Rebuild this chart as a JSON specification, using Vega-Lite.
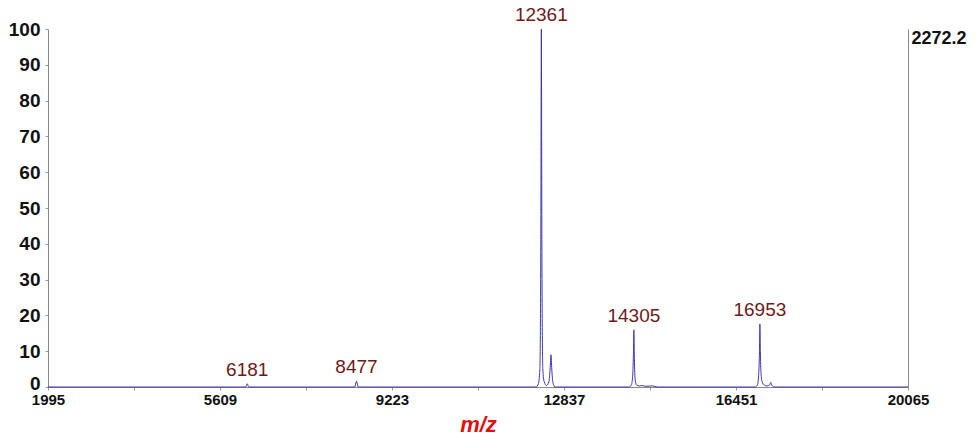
{
  "$schema": "https://vega.github.io/schema/vega-lite/v6.json",
  "width": 860,
  "height": 358,
  "autosize": "none",
  "padding": {"left": 48, "top": 29, "right": 71, "bottom": 50},
  "background": "white",
  "config": {"view": {"stroke": null}},
  "datasets": {
    "spectrum": [
      {"mz": 1995, "intensity": 0},
      {"mz": 6150, "intensity": 0},
      {"mz": 6181, "intensity": 0.9},
      {"mz": 6212, "intensity": 0},
      {"mz": 8440, "intensity": 0},
      {"mz": 8477, "intensity": 1.6},
      {"mz": 8514, "intensity": 0},
      {"mz": 12250, "intensity": 0},
      {"mz": 12300, "intensity": 1},
      {"mz": 12330, "intensity": 5},
      {"mz": 12350, "intensity": 40},
      {"mz": 12361, "intensity": 100},
      {"mz": 12372, "intensity": 40},
      {"mz": 12392, "intensity": 5},
      {"mz": 12420, "intensity": 1.5},
      {"mz": 12470, "intensity": 0.4},
      {"mz": 12520, "intensity": 1.5},
      {"mz": 12545, "intensity": 5},
      {"mz": 12564, "intensity": 9},
      {"mz": 12580, "intensity": 5},
      {"mz": 12605, "intensity": 1.2},
      {"mz": 12650, "intensity": 0},
      {"mz": 14200, "intensity": 0},
      {"mz": 14250, "intensity": 0.5},
      {"mz": 14280, "intensity": 3},
      {"mz": 14295, "intensity": 9},
      {"mz": 14305, "intensity": 16},
      {"mz": 14316, "intensity": 8},
      {"mz": 14332, "intensity": 2},
      {"mz": 14365, "intensity": 0.5},
      {"mz": 14420, "intensity": 0.3},
      {"mz": 14470, "intensity": 0.4},
      {"mz": 14560, "intensity": 0.2},
      {"mz": 14700, "intensity": 0.3},
      {"mz": 14800, "intensity": 0},
      {"mz": 16850, "intensity": 0},
      {"mz": 16900, "intensity": 0.5},
      {"mz": 16930, "intensity": 4},
      {"mz": 16944, "intensity": 10},
      {"mz": 16953, "intensity": 17.6},
      {"mz": 16963, "intensity": 10},
      {"mz": 16976, "intensity": 4},
      {"mz": 17000, "intensity": 1.5},
      {"mz": 17040, "intensity": 0.6},
      {"mz": 17100, "intensity": 0.3},
      {"mz": 17160, "intensity": 0.6},
      {"mz": 17181, "intensity": 1.3},
      {"mz": 17202, "intensity": 0.5},
      {"mz": 17260, "intensity": 0},
      {"mz": 20065, "intensity": 0}
    ],
    "labels": [
      {"mz": 6181, "intensity": 0.9, "label": "6181"},
      {"mz": 8477, "intensity": 1.6, "label": "8477"},
      {"mz": 12361, "intensity": 100, "label": "12361"},
      {"mz": 14305, "intensity": 16, "label": "14305"},
      {"mz": 16953, "intensity": 17.6, "label": "16953"}
    ]
  },
  "layer": [
    {
      "data": {"name": "spectrum"},
      "mark": {"type": "line", "color": "#3a36b0", "strokeWidth": 1, "interpolate": "monotone"},
      "encoding": {
        "x": {
          "field": "mz", "type": "quantitative",
          "scale": {"domain": [1995, 20065], "nice": false, "zero": false},
          "axis": {
            "values": [1995, 3802, 5609, 7416, 9223, 11030, 12837, 14644, 16451, 18258, 20065],
            "labelExpr": "indexof([1995,5609,9223,12837,16451,20065], datum.value) >= 0 ? datum.value + '' : ''",
            "grid": false,
            "domainColor": "#888888",
            "tickColor": "#999999",
            "tickSize": 3,
            "labelFont": "Liberation Sans",
            "labelFontWeight": "bold",
            "labelFontSize": 15,
            "labelColor": "#111111",
            "labelPadding": 2,
            "labelFlush": false,
            "labelOverlap": false,
            "title": "m/z",
            "titleFont": "Liberation Sans",
            "titleFontSize": 22,
            "titleFontStyle": "italic",
            "titleFontWeight": "bold",
            "titleColor": "#e01010",
            "titlePadding": 7
          }
        },
        "y": {
          "field": "intensity", "type": "quantitative",
          "scale": {"domain": [0, 100], "nice": false},
          "axis": {
            "values": [0, 10, 20, 30, 40, 50, 60, 70, 80, 90, 100],
            "grid": false,
            "domainColor": "#888888",
            "tickColor": "#999999",
            "tickSize": 3,
            "labelFont": "Liberation Sans",
            "labelFontWeight": "bold",
            "labelFontSize": 19,
            "labelColor": "#111111",
            "labelPadding": 5,
            "labelOffset": {"condition": {"test": "datum.value == 0", "value": -4}, "value": 0},
            "labelFlush": false,
            "labelOverlap": false,
            "title": null
          }
        }
      }
    },
    {
      "data": {"name": "labels"},
      "mark": {"type": "text", "baseline": "bottom", "dy": -4, "font": "Liberation Sans", "fontSize": 19, "color": "#6e1a1a"},
      "encoding": {
        "x": {"field": "mz", "type": "quantitative"},
        "y": {"field": "intensity", "type": "quantitative", "axis": {
            "orient": "right",
            "values": [100],
            "labelExpr": "'2272.2'",
            "grid": false,
            "ticks": false,
            "domainColor": "#888888",
            "labelFont": "Liberation Sans",
            "labelFontWeight": "bold",
            "labelFontSize": 18,
            "labelColor": "#111111",
            "labelBaseline": "top",
            "labelPadding": 3,
            "labelFlush": false,
            "title": null
        }},
        "text": {"field": "label"}
      }
    }
  ],
  "resolve": {"scale": {"y": "shared"}, "axis": {"y": "independent"}}
}
